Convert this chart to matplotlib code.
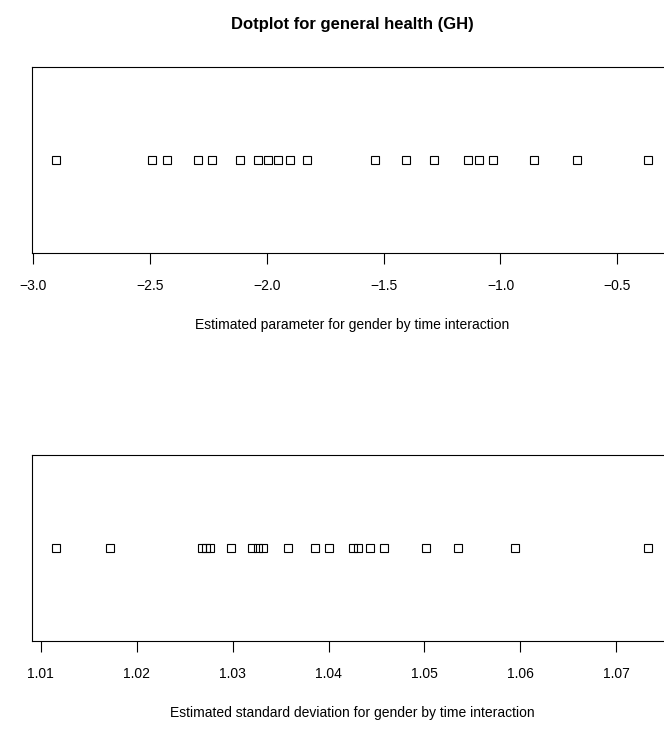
import numpy as np
import matplotlib
matplotlib.use('Agg')
import matplotlib.pyplot as plt

# estimated gender-by-time parameters (top panel)
est_param = [-2.902, -2.491, -2.427, -2.295, -2.235, -2.115, -2.038, -1.996,
             -1.953, -1.902, -1.829, -1.538, -1.406, -1.286, -1.141, -1.090,
             -1.030, -0.855, -0.671, -0.368]
param_ticks = [-3.0, -2.5, -2.0, -1.5, -1.0, -0.5]
param_labels = ['\u22123.0', '\u22122.5', '\u22122.0', '\u22121.5', '\u22121.0', '\u22120.5']

# estimated standard deviations (bottom panel)
est_sd = [1.01156, 1.01719, 1.02677, 1.02719, 1.02760, 1.02979, 1.03198, 1.03260,
          1.03313, 1.03573, 1.03854, 1.04000, 1.04250, 1.04302, 1.04427, 1.04573,
          1.05021, 1.05354, 1.05948, 1.07333]
sd_ticks = [1.01, 1.02, 1.03, 1.04, 1.05, 1.06, 1.07]
sd_labels = ['1.01', '1.02', '1.03', '1.04', '1.05', '1.06', '1.07']

plt.rcParams['font.family'] = ['Liberation Sans', 'DejaVu Sans']

W, H = 664, 731
fig = plt.figure(figsize=(W / 100, H / 100), dpi=100)


def rlim(v):
    # R style range with 4% padding
    lo, hi = min(v), max(v)
    d = (hi - lo) * 0.04
    return lo - d, hi + d


def dotpanel(rect, vals, ticks, labels, xlabel):
    ax = fig.add_axes(rect)
    ax.plot(vals, np.ones(len(vals)), linestyle='none', marker='s', markersize=6.2,
            markerfacecolor='none', markeredgecolor='black', markeredgewidth=0.8)
    ax.set_xlim(*rlim(vals))
    ax.set_ylim(0, 2)
    ax.set_yticks([])
    ax.set_xticks(ticks)
    ax.set_xticklabels(labels, fontsize=10)
    ax.tick_params(axis='x', direction='out', length=8, width=0.8, pad=11, color='black')
    for s in ax.spines.values():
        s.set_linewidth(0.8)
        s.set_color('black')
    ax.set_xlabel(xlabel, fontsize=10, labelpad=18)
    return ax


left = 32 / W
width = 640 / W
ax1 = dotpanel([left, 1 - 253 / H, width, 186 / H], est_param, param_ticks, param_labels,
               'Estimated parameter for gender by time interaction')
ax2 = dotpanel([left, 1 - 641 / H, width, 186 / H], est_sd, sd_ticks, sd_labels,
               'Estimated standard deviation for gender by time interaction')

ax1.set_title('Dotplot for general health (GH)', fontsize=12, fontweight='bold', pad=27)

fig.savefig('out.png', dpi=100)
